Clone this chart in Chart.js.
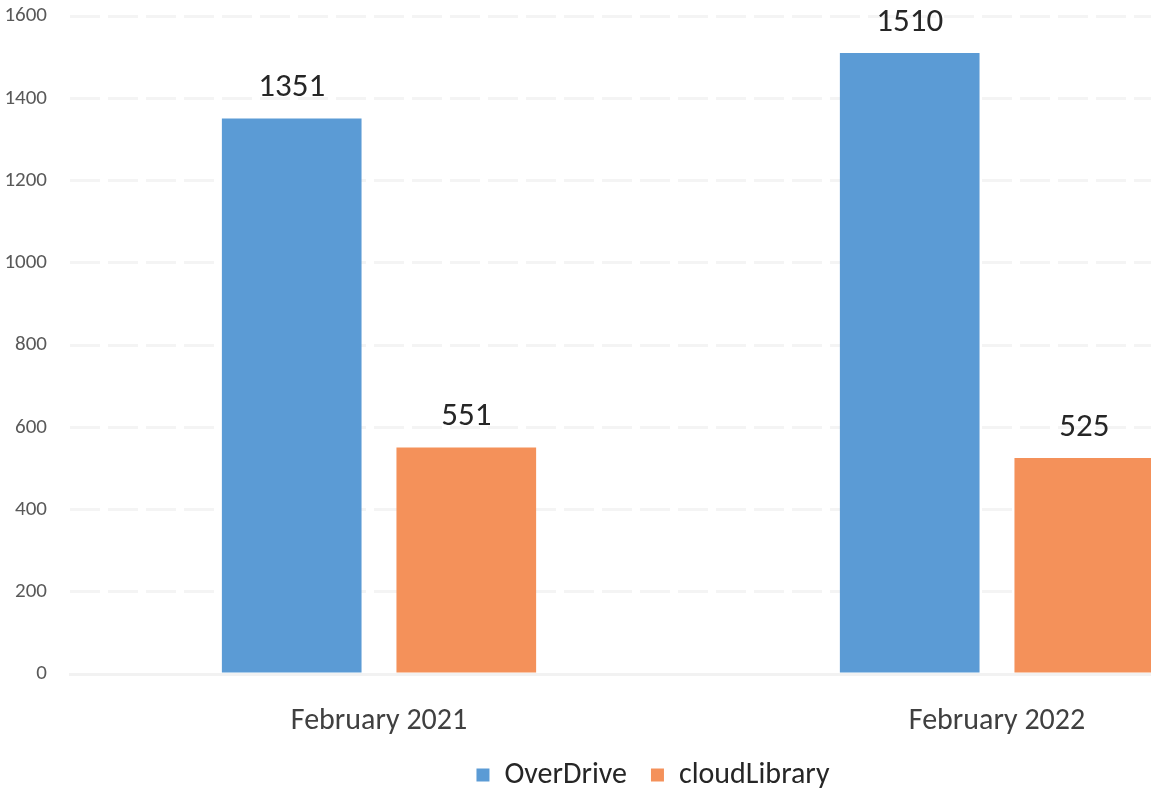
<!DOCTYPE html>
<html>
<head>
<meta charset="utf-8">
<script src="https://cdn.jsdelivr.net/npm/chart.js@4"></script>
<style>
  html, body { margin: 0; padding: 0; background: #fff; overflow: hidden; }
  #wrap { width: 1151px; height: 800px; overflow: hidden; position: relative; }
  #box { width: 1330px; height: 800px; position: absolute; left: 0; top: 0; }
</style>
</head>
<body>
<div id="wrap"><div id="box"><canvas id="myChart"></canvas></div></div>
<script>
// chart data
const categories = ['February 2021', 'February 2022'];
const overDrive = [1351, 1510];
const cloudLibrary = [551, 525];
const yTicks = [0, 200, 400, 600, 800, 1000, 1200, 1400, 1600];

const FONT = "Carlito, Lato, sans-serif";

// draws the value above each bar
const valueLabels = {
    id: 'valueLabels',
    afterDatasetsDraw(chart) {
        const ctx = chart.ctx;
        ctx.save();
        ctx.font = '33px ' + FONT;
        ctx.fillStyle = '#262626';
        ctx.textAlign = 'center';
        ctx.textBaseline = 'alphabetic';
        chart.data.datasets.forEach((ds, i) => {
            chart.getDatasetMeta(i).data.forEach((bar, j) => {
                ctx.fillText(ds.data[j], bar.x, bar.y - 22);
            });
        });
        ctx.restore();
    }
};

function initBarChart() {
    const ctx = document.getElementById('myChart').getContext('2d');
    new Chart(ctx, {
        type: 'bar',
        data: {
            labels: categories,
            datasets: [{
                label: 'OverDrive',
                data: overDrive,
                backgroundColor: '#5b9bd5',
                barPercentage: 0.8,
                categoryPercentage: 0.565
            }, {
                label: 'cloudLibrary',
                data: cloudLibrary,
                backgroundColor: '#f4915a',
                barPercentage: 0.8,
                categoryPercentage: 0.565
            }]
        },
        options: {
            responsive: true,
            maintainAspectRatio: false,
            animation: false,
            layout: { padding: { top: 0, right: 24, left: 0, bottom: 0 } },
            plugins: {
                legend: {
                    position: 'bottom',
                    labels: {
                        boxWidth: 13,
                        boxHeight: 13,
                        padding: 24,
                        color: '#262626',
                        font: { family: FONT, size: 30 }
                    }
                },
                tooltip: { enabled: false }
            },
            scales: {
                y: {
                    min: 0,
                    max: 1600,
                    afterBuildTicks: (axis) => { axis.ticks = yTicks.map(v => ({ value: v })); },
                    afterFit: (axis) => {
                        axis.width = 70;
                        // keep the top tick near the canvas edge
                        axis.paddingTop = 16;
                        axis.paddingBottom = 0;
                    },
                    ticks: {
                        padding: 23,
                        color: '#595959',
                        font: { family: FONT, size: 21 },
                        callback: (v) => String(v)
                    },
                    grid: { color: '#f4f4f4', lineWidth: 3, drawTicks: false },
                    border: { display: false, dash: [30, 8] }
                },
                x: {
                    afterFit: (axis) => { axis.height = 62; },
                    ticks: {
                        padding: 21,
                        color: '#404040',
                        font: { family: FONT, size: 30 }
                    },
                    grid: { display: false },
                    border: { display: true, color: '#f2f2f2', width: 3 }
                }
            }
        },
        plugins: [valueLabels]
    });
}

document.addEventListener('DOMContentLoaded', initBarChart);
</script>
</body>
</html>
